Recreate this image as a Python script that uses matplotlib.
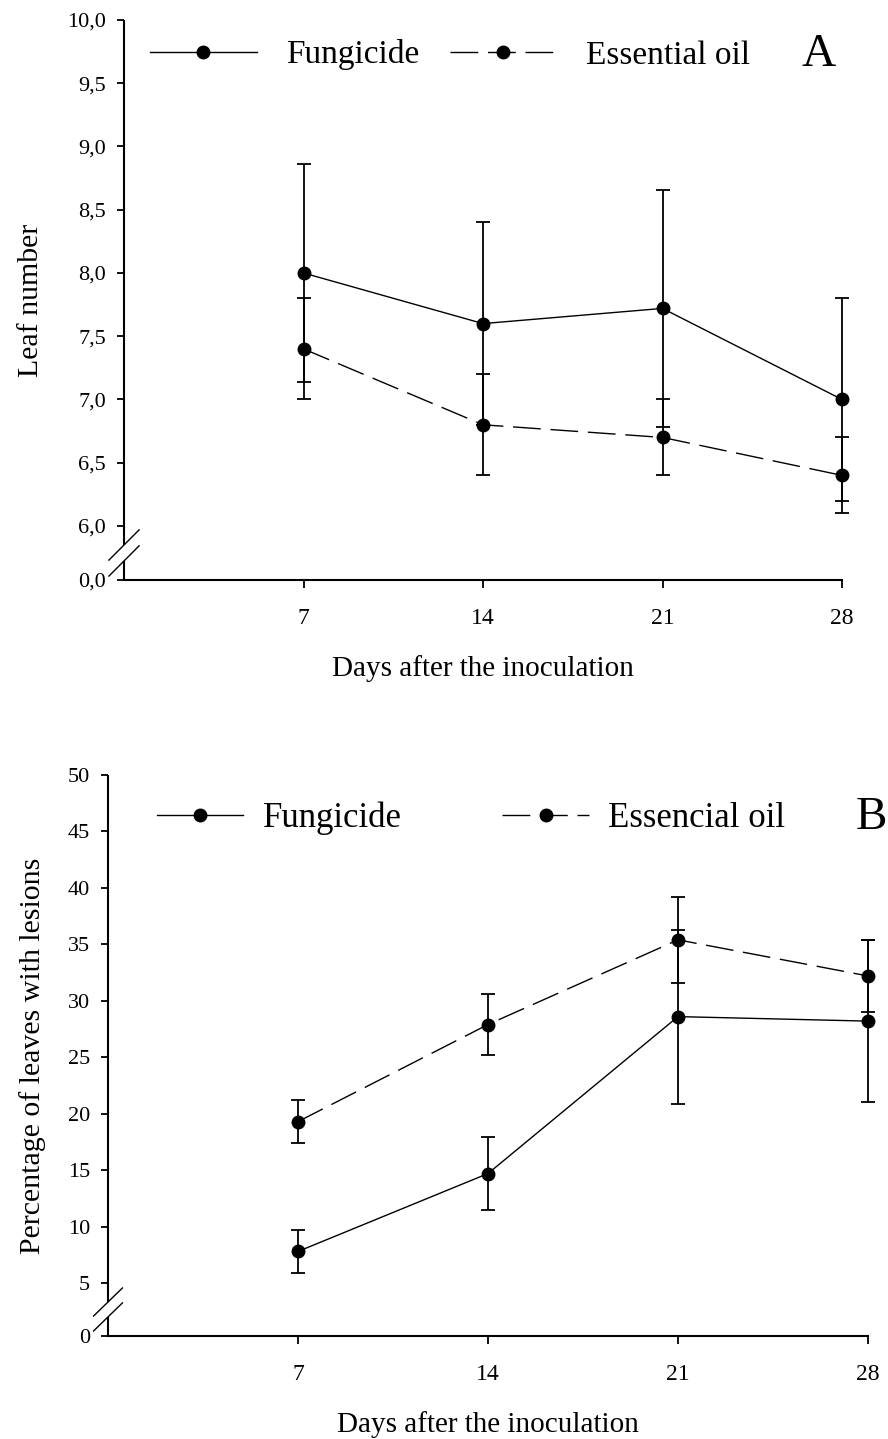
import matplotlib
matplotlib.use("Agg")
import matplotlib.pyplot as plt

plt.rcParams['font.family'] = ['Liberation Serif', 'DejaVu Serif']

# data
days = [7, 14, 21, 28]

# panel A - leaf number
fung_leaf = [8.0, 7.6, 7.72, 7.0]
fung_leaf_err = [0.86, 0.8, 0.94, 0.8]
oil_leaf = [7.4, 6.8, 6.7, 6.4]
oil_leaf_err = [0.4, 0.4, 0.3, 0.3]
leaf_ticks = [6.0, 6.5, 7.0, 7.5, 8.0, 8.5, 9.0, 9.5, 10.0]

# panel B - percentage of leaves with lesions
fung_les = [7.8, 14.7, 28.6, 28.2]
fung_les_err = [1.9, 3.2, 7.7, 7.2]
oil_les = [19.3, 27.9, 35.4, 32.2]
oil_les_err = [1.9, 2.7, 3.8, 3.2]
les_ticks = [5, 10, 15, 20, 25, 30, 35, 40, 45, 50]

DASH = (0, (20, 7))


def draw_panel(ax, fung, fung_err, oil, oil_err, labels, letter, letter_x,
               y_floor, y_top, yticks, ytick_labels, ylabel, ylabel_x,
               leg_x, leg_y, leg_fs, leg_hl, leg_pad, leg_col,
               brk, brk_dx, brk_dy):
    # error bars first, lines + markers on top
    for vals, err in ((fung, fung_err), (oil, oil_err)):
        eb = ax.errorbar(days, vals, yerr=err, fmt='none', ecolor='k',
                         elinewidth=1.3, capsize=4.7, capthick=1.3, zorder=2)
        for art in eb.lines[1] + eb.lines[2]:
            art.set_clip_on(False)
    l1, = ax.plot(days, fung, color='k', lw=1.0, marker='o', ms=9,
                  label=labels[0], zorder=3, clip_on=False)
    l2, = ax.plot(days, oil, color='k', lw=1.0, ls=DASH, marker='o', ms=9,
                  label=labels[1], zorder=3, clip_on=False)

    ax.set_xlim(0, 28)
    ax.set_ylim(y_floor, y_top)
    ax.set_xticks(days)
    ax.set_xticklabels([str(d) for d in days])
    ax.set_yticks([y_floor] + yticks)
    ax.set_yticklabels(ytick_labels)
    ax.tick_params(axis='y', direction='out', length=5, width=1.3,
                   labelsize=16, pad=8)
    ax.tick_params(axis='x', direction='out', length=6, width=1.3,
                   labelsize=17, pad=14)

    for s in ['top', 'right', 'left']:
        ax.spines[s].set_visible(False)
    ax.spines['bottom'].set_linewidth(1.5)

    # broken y axis: two spine pieces and the double slash
    lo, hi = brk
    ax.plot([0, 0], [hi, 1], transform=ax.transAxes, color='k', lw=1.5,
            clip_on=False, solid_capstyle='butt')
    ax.plot([0, 0], [0, lo], transform=ax.transAxes, color='k', lw=1.5,
            clip_on=False, solid_capstyle='butt')
    for yc in (lo, hi):
        ax.plot([-brk_dx, brk_dx], [yc - brk_dy, yc + brk_dy],
                transform=ax.transAxes, color='k', lw=1.0, clip_on=False)

    ax.set_xlabel('Days after the inoculation', fontsize=21)
    ax.xaxis.set_label_coords(0.5, -0.134)
    ax.set_ylabel(ylabel, fontsize=21.5)
    ax.yaxis.set_label_coords(ylabel_x, 0.5)

    ax.legend(handles=[l1, l2], loc='center left',
              bbox_to_anchor=(leg_x, leg_y), ncol=2, frameon=False,
              fontsize=leg_fs, handlelength=leg_hl, handletextpad=leg_pad,
              columnspacing=leg_col, borderpad=0, borderaxespad=0)
    ax.text(letter_x, leg_y, letter, transform=ax.transAxes, fontsize=34,
            ha='center', va='center')


fig = plt.figure(figsize=(8.88, 14.39), dpi=100)

axA = fig.add_axes([124 / 888, 1 - 580 / 1439, 718 / 888, 560 / 1439])
draw_panel(axA, fung_leaf, fung_leaf_err, oil_leaf, oil_leaf_err,
           ['Fungicide', 'Essential oil'], 'A', 0.967,
           5.573, 10.0, leaf_ticks,
           ['0,0'] + [f'{v:.1f}'.replace('.', ',') for v in leaf_ticks],
           'Leaf number', -0.111, 0.036, 0.9375, 24, 3.2, 0.9, 0.9,
           (0.034, 0.0625), 0.021, 0.027)

axB = fig.add_axes([108 / 888, 1 - 1336 / 1439, 760 / 888, 561 / 1439])
draw_panel(axB, fung_les, fung_les_err, oil_les, oil_les_err,
           ['Fungicide', 'Essencial oil'], 'B', 1.004,
           0.31, 50, les_ticks,
           ['0'] + [str(v) for v in les_ticks],
           'Percentage of leaves with lesions', -0.082, 0.064, 0.923,
           25, 2.5, 0.55, 2.9,
           (0.034, 0.0606), 0.019, 0.025)

fig.savefig('out.png', dpi=100)
